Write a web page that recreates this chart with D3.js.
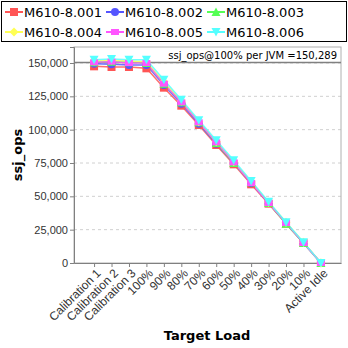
<!DOCTYPE html>
<html><head><meta charset="utf-8">
<script src="https://cdn.jsdelivr.net/npm/d3@7"></script>
<style>body{margin:0;background:#fff}svg{display:block}</style>
</head><body><svg id="c" width="348" height="348"></svg>
<script>
const categories = ["Calibration 1","Calibration 2","Calibration 3","100%","90%","80%","70%","60%","50%","40%","30%","20%","10%","Active Idle"];
const seriesNames = ["M610-8.001","M610-8.002","M610-8.003","M610-8.004","M610-8.005","M610-8.006"];
const s001 = [147500,147000,147000,146000,131500,118000,103500,88500,74000,59000,44500,29500,15000,0];
const s002 = [149500,149000,148500,148500,133500,119500,104500,89500,75000,60000,45000,30000,15000,0];
const s003 = [150500,151000,150500,150000,134500,120500,105500,90000,75000,60500,45000,29500,15000,0];
const s004 = [151500,152000,151500,151000,136000,121500,106000,91000,76000,61000,45500,30500,15500,0];
const s005 = [150500,151000,150000,150000,134500,120500,105500,90500,75500,60000,45000,30000,15000,0];
const s006 = [152500,153000,152500,152500,137500,122500,107000,92000,77000,61500,46000,30500,15500,0];
const yTicks = [0,25000,50000,75000,100000,125000,150000];
const refValue = 150289;
const colors = ["#ff5555","#5555ff","#55ff55","#ffff55","#ff55ff","#55ffff"];
const shapes = ["square","circle","triUp","diamond","rect","triDown"];
const allSeries = [s001,s002,s003,s004,s005,s006];

const svg = d3.select("#c");
const L=74,R=341,T=47,B=263;
const x = d3.scalePoint().domain(categories).range([L,R]).padding(1.15);
const y = d3.scaleLinear().domain([0,162000]).range([B,T]);

// legend
svg.append("rect").attr("x",1.5).attr("y",1.5).attr("width",345).attr("height",40).attr("fill","#fff").attr("stroke","#000");
function marker(g,shape,cx,cy,color){
  let p;
  if(shape==="square") p=g.append("rect").attr("x",cx-4).attr("y",cy-4).attr("width",8).attr("height",8);
  else if(shape==="rect") p=g.append("rect").attr("x",cx-4).attr("y",cy-3).attr("width",8).attr("height",6);
  else if(shape==="circle") p=g.append("circle").attr("cx",cx).attr("cy",cy).attr("r",4);
  else if(shape==="triUp") p=g.append("path").attr("d",`M${cx},${cy-4.5}L${cx+4.5},${cy+4}L${cx-4.5},${cy+4}Z`);
  else if(shape==="triDown") p=g.append("path").attr("d",`M${cx},${cy+4.5}L${cx+4.5},${cy-4}L${cx-4.5},${cy-4}Z`);
  else if(shape==="diamond") p=g.append("path").attr("d",`M${cx},${cy-4.5}L${cx+4.5},${cy}L${cx},${cy+4.5}L${cx-4.5},${cy}Z`);
  p.attr("fill",color);
}
seriesNames.forEach((n,i)=>{
  const col=i%3,row=Math.floor(i/3);
  const lx=5+col*101, ly=12+row*20;
  const g=svg.append("g");
  g.append("line").attr("x1",lx).attr("x2",lx+18).attr("y1",ly).attr("y2",ly).attr("stroke",colors[i]).attr("stroke-width",2);
  marker(g,shapes[i],lx+9,ly,colors[i]);
  g.append("text").attr("x",lx+19).attr("y",ly+5).attr("font-family","DejaVu Sans, sans-serif").attr("font-size",13).text(n);
});

// grid
yTicks.forEach(t=>{
  if(t>0) svg.append("line").attr("x1",L).attr("x2",R).attr("y1",y(t)).attr("y2",y(t)).attr("stroke","#d0d0d0").attr("stroke-dasharray","3,3").attr("stroke-width",1);
});
// plot border
svg.append("rect").attr("x",L).attr("y",T).attr("width",R-L).attr("height",B-T).attr("fill","none").attr("stroke","#b0b0b0");
// axes
const ya = svg.append("g").attr("transform",`translate(${L},0)`).call(d3.axisLeft(y).tickValues(yTicks).tickFormat(d3.format(",")).tickSize(4).tickPadding(2));
ya.select(".domain").attr("stroke","#808080");
ya.selectAll(".tick line").attr("stroke","#808080");
ya.selectAll("text").attr("font-family","Liberation Sans, Arial, sans-serif").attr("font-size",11).attr("fill","#333");
const xa = svg.append("g").attr("transform",`translate(0,${B})`).call(d3.axisBottom(x).tickSize(4).tickSizeOuter(0));
xa.select(".domain").attr("stroke","#808080");
xa.selectAll(".tick line").attr("stroke","#808080");
xa.selectAll("text").attr("font-family","Liberation Sans, Arial, sans-serif").attr("font-size",12).attr("fill","#333")
  .attr("text-anchor","end").attr("dy",null).attr("y",0).attr("transform","translate(7,11) rotate(-45)");

// reference line
svg.append("line").attr("x1",L).attr("x2",R).attr("y1",y(refValue)).attr("y2",y(refValue)).attr("stroke","#808080").attr("stroke-width",1.5);
svg.append("text").attr("x",337).attr("y",y(refValue)-4).attr("text-anchor","end").attr("font-family","DejaVu Sans, sans-serif").attr("font-size",10).text("ssj_ops@100% per JVM =150,289");

// series
const line = d3.line().x((d,i)=>x(categories[i])).y(d=>y(d));
allSeries.forEach((s,i)=>{
  svg.append("path").datum(s).attr("d",line).attr("fill","none").attr("stroke",colors[i]).attr("stroke-width",1.5).attr("opacity",0.85);
});
allSeries.forEach((s,i)=>{
  const g=svg.append("g");
  s.forEach((v,j)=>marker(g,shapes[i],x(categories[j]),y(v),colors[i]));
});

// titles
svg.append("text").attr("transform","translate(22,155) rotate(-90)").attr("text-anchor","middle").attr("font-family","DejaVu Sans, sans-serif").attr("font-weight","bold").attr("font-size",13).text("ssj_ops");
svg.append("text").attr("x",207).attr("y",340).attr("text-anchor","middle").attr("font-family","DejaVu Sans, sans-serif").attr("font-weight","bold").attr("font-size",13).text("Target Load");
</script></body></html>
